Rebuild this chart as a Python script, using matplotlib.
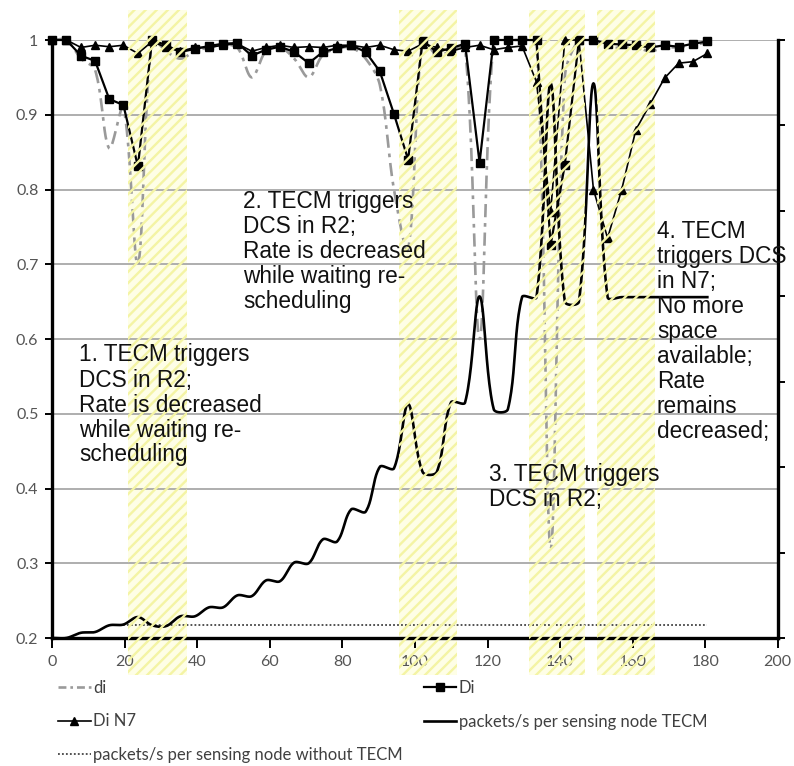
import numpy as np
import matplotlib
matplotlib.use("Agg")
import matplotlib.pyplot as plt
import matplotlib.transforms as mtransforms
from matplotlib.lines import Line2D
from matplotlib.patches import Rectangle

# ---- data -----------------------------------------------------------------
t = [0.0, 3.9, 7.9, 11.8, 15.7, 19.6, 23.6, 27.5, 31.4, 35.3,
     39.3, 43.2, 47.1, 51.0, 55.0, 58.9, 62.8, 66.7, 70.7, 74.6,
     78.5, 82.4, 86.4, 90.3, 94.2, 98.1, 102.1, 106.0, 109.9, 113.8,
     117.8, 121.7, 125.6, 129.5, 133.5, 137.4, 141.3, 145.2, 149.2, 153.1,
     157.0, 160.9, 164.9, 168.8, 172.7, 176.6, 180.6]

di = [1.000, 1.000, 0.975, 0.960, 0.855, 0.910, 0.700, 1.000, 0.985, 0.975,
      0.985, 0.990, 0.993, 0.990, 0.950, 0.985, 0.990, 0.975, 0.950, 0.980,
      0.988, 0.990, 0.975, 0.940, 0.800, 0.720, 1.000, 0.980, 0.985, 0.990,
      0.600, 1.000, 1.000, 1.000, 1.000, 0.320, 0.950, 1.000, 1.000, 0.990,
      0.990, 0.990, 0.985, 0.990, 0.990, 0.993, 0.997]

Di = [1.000, 1.000, 0.979, 0.972, 0.921, 0.913, 0.831, 1.000, 0.993, 0.984,
      0.988, 0.992, 0.995, 0.996, 0.979, 0.987, 0.991, 0.984, 0.969, 0.984,
      0.989, 0.993, 0.984, 0.958, 0.901, 0.840, 0.999, 0.984, 0.989, 0.995,
      0.836, 1.000, 1.000, 1.000, 1.000, 0.726, 0.833, 1.000, 1.000, 0.995,
      0.994, 0.993, 0.990, 0.993, 0.991, 0.995, 0.998]

Di_N7 = [1.000, 1.000, 0.990, 0.993, 0.991, 0.993, 0.982, 0.998, 0.990, 0.985,
         0.990, 0.990, 0.993, 0.995, 0.985, 0.990, 0.993, 0.990, 0.991, 0.990,
         0.993, 0.993, 0.990, 0.993, 0.987, 0.985, 0.995, 0.990, 0.985, 0.990,
         0.993, 0.987, 0.990, 0.992, 0.944, 0.770, 1.000, 1.000, 0.800, 0.735,
         0.800, 0.880, 0.915, 0.949, 0.969, 0.971, 0.982]

rate_tecm = [0.200, 0.200, 0.207, 0.208, 0.217, 0.218, 0.228, 0.217, 0.216, 0.229,
             0.229, 0.241, 0.241, 0.257, 0.256, 0.277, 0.276, 0.301, 0.300, 0.332,
             0.329, 0.372, 0.369, 0.429, 0.427, 0.513, 0.422, 0.422, 0.515, 0.515,
             0.657, 0.506, 0.506, 0.656, 0.656, 0.942, 0.650, 0.650, 0.942, 0.656,
             0.656, 0.656, 0.656, 0.656, 0.656, 0.656, 0.656]

rate_plain_t = [19.6, 180.6]
rate_plain = [0.217, 0.217]

# intervals in which TECM runs DCS
dcs_windows = [(21.0, 37.1), (95.7, 111.7), (131.5, 147.0), (150.3, 166.3)]

y_ticks = [0.2, 0.3, 0.4, 0.5, 0.6, 0.7, 0.8, 0.9, 1.0]
y_tick_labels = ["0.2", "0.3", "0.4", "0.5", "0.6", "0.7", "0.8", "0.9", "1"]
x_ticks = [0, 20, 40, 60, 80, 100, 120, 140, 160, 180, 200]

notes = [
    (79, [361.5, 386.5, 411.5, 436.5, 461.5],
     ["1. TECM triggers", "DCS in R2;", "Rate is decreased",
      "while waiting re-", "scheduling"]),
    (243, [208, 233, 258, 283, 308],
     ["2. TECM triggers", "DCS in R2;", "Rate is decreased",
      "while waiting re-", "scheduling"]),
    (489, [480.5, 505.5], ["3. TECM triggers", "DCS in R2;"]),
    (657, [238, 263, 288, 313, 338, 363, 388, 413, 438],
     ["4. TECM", "triggers DCS", "in N7;", "No more", "space",
      "available;", "Rate", "remains", "decreased;"]),
]

# ---- figure ---------------------------------------------------------------
W, H = 794, 766
plt.rcParams["hatch.linewidth"] = 1.7
fig = plt.figure(figsize=(W / 100, H / 100), dpi=100)
fig.patch.set_facecolor("white")

left, right, top, bottom = 52.3, 777.7, 40.0, 638.0
ax = fig.add_axes([left / W, 1 - bottom / H, (right - left) / W, (bottom - top) / H])
ax.set_xlim(0, 200)
ax.set_ylim(0.2, 1.0)


def smooth(x, y, n=24):
    """Smoothed line through the points, built in screen space with cubic
    Bezier segments whose handles scale with the neighbouring segment lengths."""
    P = ax.transData.transform(np.column_stack([x, y]))
    Pp = np.vstack([P[0], P, P[-1]])
    s = np.linspace(0, 1, n + 1)[1:, None]
    pieces = [P[:1]]
    for i in range(len(P) - 1):
        p0, p1, p2, p3 = Pp[i:i + 4]
        d01 = np.hypot(*(p1 - p0))
        d12 = np.hypot(*(p2 - p1))
        d23 = np.hypot(*(p3 - p2))
        f1 = d12 / (d01 + d12) if d01 + d12 > 0 else 0.0
        f2 = d12 / (d12 + d23) if d12 + d23 > 0 else 0.0
        c1 = p1 + (p2 - p0) * f1 / 3
        c2 = p2 - (p3 - p1) * f2 / 3
        seg = ((1 - s) ** 3) * p1 + 3 * ((1 - s) ** 2) * s * c1 \
            + 3 * (1 - s) * s ** 2 * c2 + s ** 3 * p2
        pieces.append(seg)
    pts = ax.transData.inverted().transform(np.vstack(pieces))
    return pts[:, 0], pts[:, 1]


tick_font = dict(family="Lato", size=11.5, color="#555555")
ax.set_yticks(y_ticks)
ax.set_yticklabels(y_tick_labels, fontdict=tick_font)
ax.set_xticks(x_ticks)
ax.set_xticklabels([str(v) for v in x_ticks], fontdict=tick_font)
ax.tick_params(axis="y", length=5, width=1.4, pad=5, color="black")
ax.tick_params(axis="x", length=7, width=1.4, pad=5, color="black")
ax.yaxis.grid(True, color="#a8a8a8", lw=1.3, zorder=0.8)
ax.set_axisbelow(True)
for side in ("top", "right"):
    ax.spines[side].set_visible(False)
for side in ("left", "bottom"):
    ax.spines[side].set_linewidth(2.4)
    ax.spines[side].set_color("black")

# secondary axis (ticks only)
ax2 = ax.twinx()
ax2.set_ylim(0, 0.7)
ax2.set_yticks([0, 0.1, 0.2, 0.3, 0.4, 0.5, 0.6, 0.7])
ax2.set_yticklabels([])
ax2.tick_params(axis="y", length=5, width=1.4, color="black")
for side in ("top", "left", "bottom"):
    ax2.spines[side].set_visible(False)
ax2.spines["right"].set_linewidth(2.4)
ax2.spines["right"].set_color("black")

# DCS windows: pale background behind the curves
band_tr = mtransforms.blended_transform_factory(ax.transData, ax.transAxes)
for a, b in dcs_windows:
    ax.add_patch(Rectangle((a, -0.062), b - a, 1.112, transform=band_tr,
                           facecolor="#fefee6", edgecolor="none", lw=0,
                           clip_on=False, zorder=0.5))

# curves
sx, sy = smooth(t, di)
ax.plot(sx, sy, color="#9a9a9a", lw=1.9, ls=(0, (5, 2.2, 1.4, 2.2)),
        clip_on=False, zorder=2)
sx, sy = smooth(t, rate_tecm)
ax.plot(sx, sy, color="black", lw=1.9, clip_on=False, zorder=3)
ax.plot(rate_plain_t, rate_plain, color="#444444", lw=1.3, ls=(0, (1, 1.2)),
        clip_on=False, zorder=2.5)
ax.plot(t, Di_N7, color="black", lw=1.2, marker="^", ms=5.5,
        clip_on=False, zorder=3.5)
ax.plot(t, Di, color="black", lw=1.6, marker="s", ms=6,
        clip_on=False, zorder=4)

# DCS windows: diagonal hatching laid over everything
for a, b in dcs_windows:
    ax.add_patch(Rectangle((a, -0.062), b - a, 1.112, transform=band_tr,
                           facecolor="none", edgecolor="#f4f4a4", lw=0,
                           hatch="///", clip_on=False, zorder=6))

# annotations
for x0, baselines, lines in notes:
    for yb, line in zip(baselines, lines):
        fig.text(x0 / W, 1 - yb / H, line, family="Liberation Sans",
                 fontsize=16.3, color="#111111", va="baseline", ha="left",
                 zorder=5)

# legend
leg_font = dict(family="Lato", size=12)
h_di = Line2D([], [], color="#9a9a9a", lw=1.9, ls=(0, (3, 1.5, 1, 1.5)))
h_Di = Line2D([], [], color="black", lw=1.6, marker="s", ms=6)
h_n7 = Line2D([], [], color="black", lw=1.2, marker="^", ms=5.5)
h_tecm = Line2D([], [], color="black", lw=1.9)
h_plain = Line2D([], [], color="#444444", lw=1.3, ls=(0, (1, 1.2)))

common = dict(frameon=False, loc="upper left", borderpad=0, borderaxespad=0,
              handlelength=1.95, handletextpad=0.15, labelspacing=1.05,
              prop=leg_font, labelcolor="#404040")
leg1 = fig.legend([h_di, h_n7, h_plain],
                  ["di", "Di N7", "packets/s per sensing node without TECM"],
                  bbox_to_anchor=(58 / W, 1 - 680 / H), **common)
leg2 = fig.legend([h_Di, h_tecm],
                  ["Di", "packets/s per sensing node TECM"],
                  bbox_to_anchor=(424 / W, 1 - 680 / H), **common)

fig.savefig("out.png", dpi=100, facecolor="white")
